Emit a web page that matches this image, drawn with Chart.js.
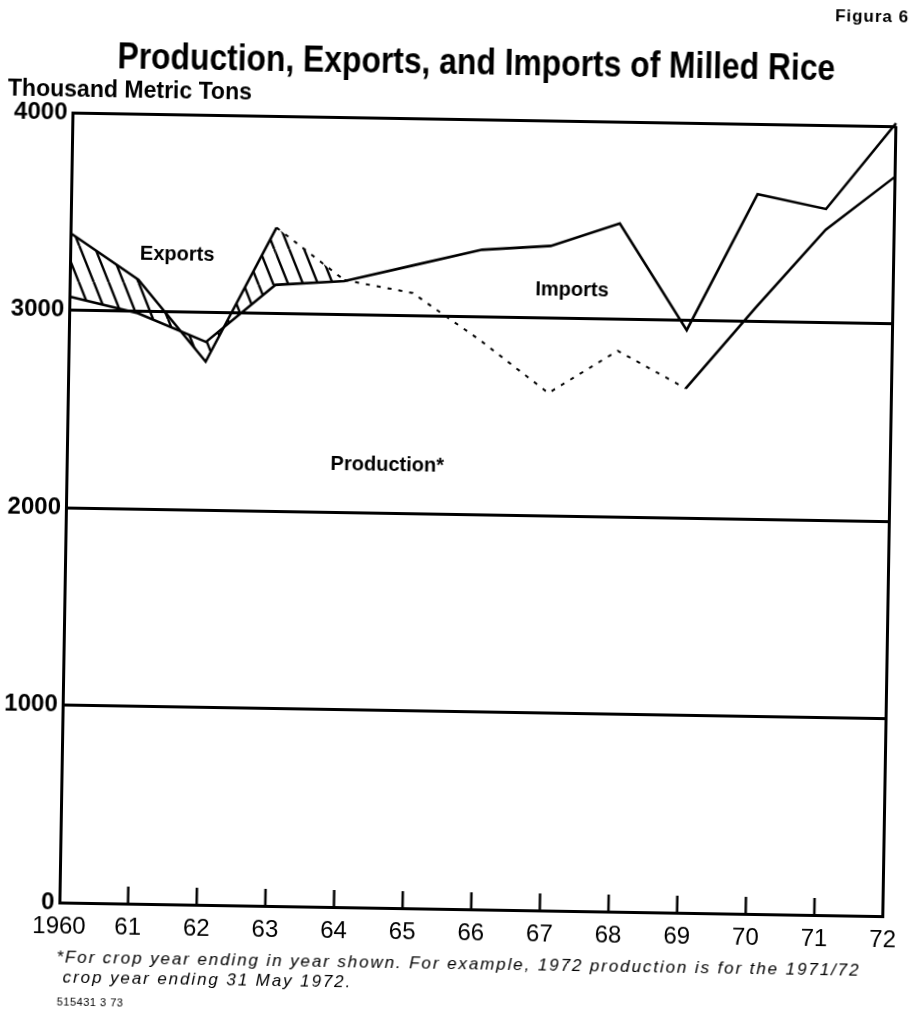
<!DOCTYPE html>
<html>
<head>
<meta charset="utf-8">
<script src="https://cdn.jsdelivr.net/npm/chart.js@4/dist/chart.umd.min.js"></script>
<style>
  html, body { margin: 0; padding: 0; background: #fff; overflow: hidden; }
  #page {
    position: relative; width: 913px; height: 1015px;
    transform: rotate(0.95deg); transform-origin: 456.5px 507.5px;
    font-family: 'Liberation Sans', Arial, sans-serif; color: #000;
  }
  #page canvas { position: absolute; left: 0; top: 0; }
  .txt { position: absolute; white-space: nowrap; }
  #fig { right: 12px; top: 0px; font-size: 17px; font-weight: bold; letter-spacing: 1px; }
  #title { left: 469px; top: 43px; font-size: 37px; font-weight: bold; line-height: 37px;
           transform: translateX(-50%) scaleX(0.86); }
  #unit { left: 1px; top: 82px; font-size: 24px; line-height: 26px; font-weight: bold;
          transform-origin: 0 0; transform: scaleX(0.96); }
  #note { left: 64px; top: 954px; font-size: 17px; font-style: italic; line-height: 20px; letter-spacing: 1.9px; }
  #code { left: 65px; top: 1002px; font-size: 11px; letter-spacing: 0.5px; }
</style>
</head>
<body>
<div id="page">
  <canvas id="riceChart" width="913" height="1015"></canvas>
  <div class="txt" id="fig">Figura 6</div>
  <div class="txt" id="title">Production, Exports, and Imports of Milled Rice</div>
  <div class="txt" id="unit">Thousand Metric Tons</div>
  <div class="txt" id="note">*For crop year ending in year shown. For example, 1972 production is for the 1971/72<br>&nbsp;crop year ending 31 May 1972.</div>
  <div class="txt" id="code">515431 3 73</div>
</div>
<script>
const years = ['1960', '61', '62', '63', '64', '65', '66', '67', '68', '69', '70', '71', '72'];
// production line (dotted where it runs below the import band)
const production = [3390, 3160, 2750, 3435, 3175, 3115, 2880, 2620, 2840, 2655, 3070, 3470, 3745];
// production + imports - exports
const netSupply = [3068, 2990, 2850, 3145, 3170, 3255, 3340, 3365, 3485, 2950, 3645, 3575, 4015];
const yTicks = [0, 1000, 2000, 3000, 4000];

// area labels: text, x (year index), y (thousand tons)
const areaLabels = [
  { text: 'Exports', x: 1.56, y: 3290 },
  { text: 'Imports', x: 7.32, y: 3140 },
  { text: 'Production*', x: 4.67, y: 2240 }
];
const lastExportIdx = 4;

function makeHatch() {
  const c = document.createElement('canvas');
  c.width = 15; c.height = 36;
  const g = c.getContext('2d');
  g.strokeStyle = '#000';
  g.lineWidth = 2.4;
  for (const k of [-1, 0, 1]) {
    g.beginPath();
    g.moveTo(k * 15, 0);
    g.lineTo(k * 15 + 15, 36);
    g.stroke();
  }
  return g.createPattern(c, 'repeat');
}
const hatch = makeHatch();

const insideTicks = {
  id: 'insideTicks',
  afterDraw(chart) {
    const { ctx, chartArea, scales } = chart;
    ctx.save();
    ctx.strokeStyle = '#000';
    ctx.lineWidth = 2.5;
    for (let i = 1; i < years.length - 1; i++) {
      const x = scales.x.getPixelForValue(i);
      ctx.beginPath();
      ctx.moveTo(x, chartArea.bottom);
      ctx.lineTo(x, chartArea.bottom - 17);
      ctx.stroke();
    }
    ctx.fillStyle = '#000';
    ctx.textAlign = 'center';
    ctx.textBaseline = 'middle';
    ctx.font = 'bold 20px "Liberation Sans", Arial, sans-serif';
    for (const l of areaLabels) {
      ctx.fillText(l.text, scales.x.getPixelForValue(l.x), scales.y.getPixelForValue(l.y));
    }
    ctx.restore();
  }
};

const ctx = document.getElementById('riceChart').getContext('2d');
const riceChart = new Chart(ctx, {
  type: 'line',
  data: {
    labels: years,
    datasets: [{
      label: 'Production',
      data: production,
      borderColor: '#000',
      borderWidth: 2.5,
      pointRadius: 0,
      fill: '+1',
      backgroundColor: 'rgba(0,0,0,0)',
      clip: false,
      segment: {
        backgroundColor: c => c.p1DataIndex <= lastExportIdx ? hatch : 'rgba(0,0,0,0)',
        borderDash: c => (c.p0DataIndex >= 3 && c.p1DataIndex <= 9) ? [4, 7] : undefined,
        borderWidth: c => (c.p0DataIndex >= 3 && c.p1DataIndex <= 9) ? 2 : undefined
      }
    }, {
      label: 'Production + imports - exports',
      data: netSupply,
      borderColor: '#000',
      borderWidth: 2.6,
      pointRadius: 0,
      fill: false,
      clip: false
    }]
  },
  options: {
    responsive: false,
    animation: false,
    layout: { padding: { top: 119, right: 17, bottom: 0, left: 0 } },
    plugins: { legend: { display: false }, tooltip: { enabled: false } },
    scales: {
      x: {
        offset: false,
        afterFit: s => { s.height = 106; },
        grid: {
          drawTicks: false,
          lineWidth: 3,
          color: c => (c.index === 0 || c.index === years.length - 1) ? '#000' : 'rgba(0,0,0,0)'
        },
        border: { display: true, color: '#000', width: 3 },
        ticks: {
          autoSkip: false, maxRotation: 0, padding: 10, color: '#000',
          font: { family: '"Liberation Sans", Arial, sans-serif', size: 24 }
        }
      },
      y: {
        min: 0, max: 4000,
        afterFit: s => { s.width = 66; },
        afterBuildTicks: s => { s.ticks = yTicks.map(v => ({ value: v })); },
        grid: { drawTicks: false, lineWidth: 3, color: '#000' },
        border: { display: true, color: '#000', width: 3 },
        ticks: {
          padding: 5, color: '#000',
          callback: v => String(v),
          font: { family: '"Liberation Sans", Arial, sans-serif', size: 24, weight: 'bold' }
        }
      }
    }
  },
  plugins: [insideTicks]
});
</script>
</body>
</html>
